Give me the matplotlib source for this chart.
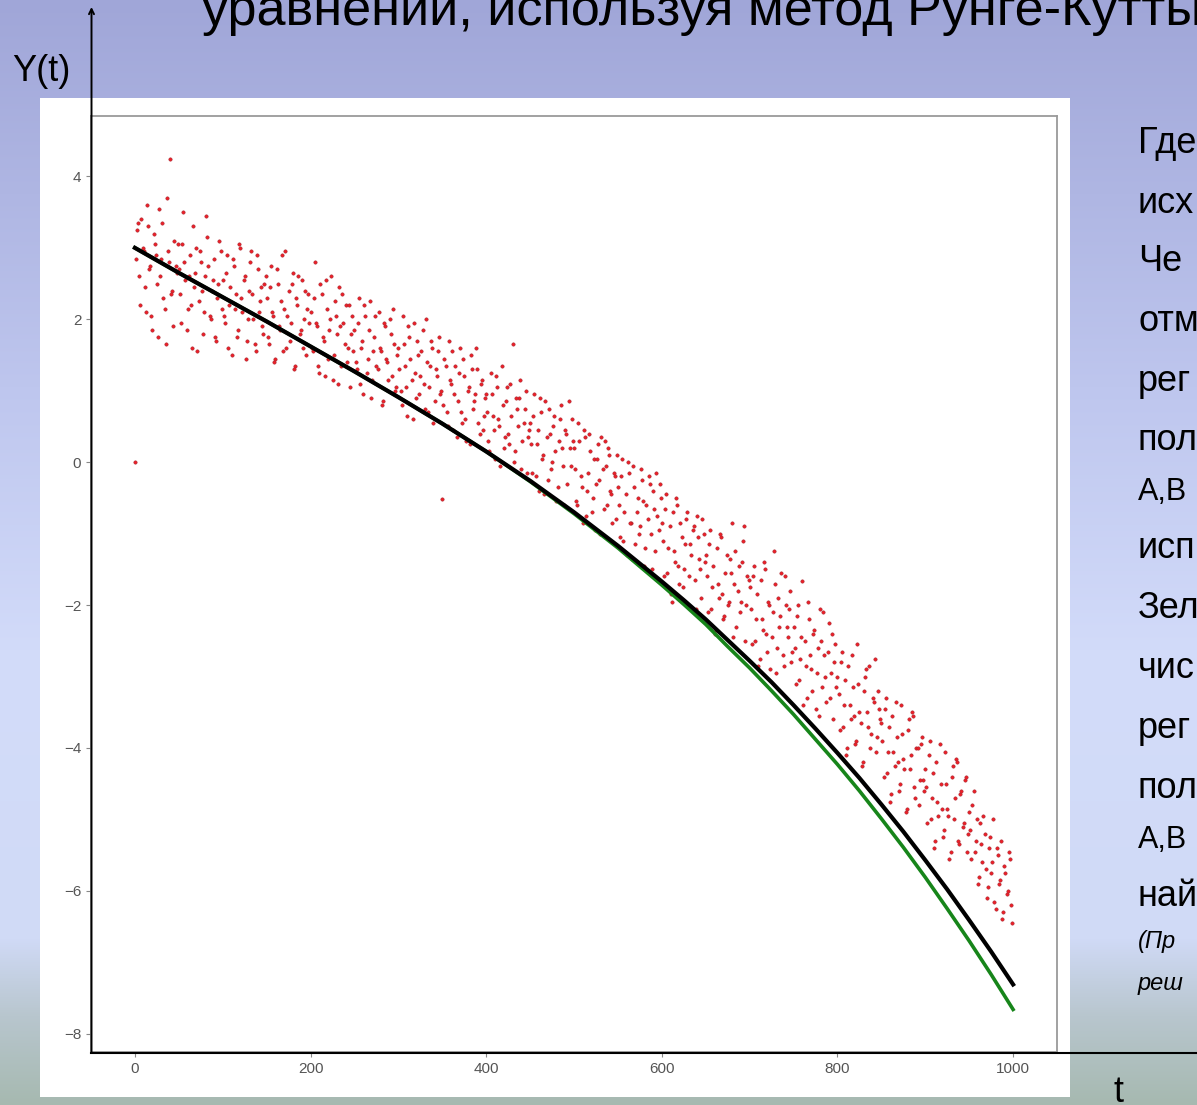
import numpy as np
import matplotlib
matplotlib.use("Agg")
import matplotlib.pyplot as plt
from matplotlib.patches import Rectangle, FancyArrowPatch
from matplotlib.lines import Line2D

plt.rcParams['font.family'] = ['Liberation Sans', 'DejaVu Sans']

# --- данные ---
t_line = [0, 50, 100, 150, 200, 250, 300, 350, 400, 450, 500, 550, 600,
          625, 650, 675, 700, 725, 750, 775, 800, 825, 850, 875, 900, 925, 950, 975, 1000]
# регрессия (черная)
y_regr = [3.00, 2.65, 2.31, 1.97, 1.62, 1.27, 0.91, 0.54, 0.15, -0.26, -0.70, -1.17, -1.67,
          -1.93, -2.20, -2.49, -2.78, -3.08, -3.40, -3.73, -4.07, -4.42, -4.79, -5.17,
          -5.57, -5.98, -6.41, -6.85, -7.31]
# численное решение (зеленая)
y_rk = [3.00, 2.65, 2.31, 1.97, 1.62, 1.27, 0.91, 0.54, 0.15, -0.27, -0.72, -1.20, -1.72,
        -1.99, -2.27, -2.58, -2.88, -3.20, -3.53, -3.88, -4.23, -4.60, -4.99, -5.39,
        -5.81, -6.25, -6.70, -7.17, -7.66]

# исходные точки: два набора со сдвигом по t
t_obs_a = np.arange(0, 1000, 2.5)
y_obs_a = [
    0.00, 3.25, 2.60, 3.40, 2.95, 2.10, 3.30, 2.75, 1.85, 3.05, 2.50, 3.55, 2.85, 2.30, 1.65, 2.95, 4.25, 2.40, 3.10, 2.65,
    2.70, 1.95, 3.50, 2.55, 2.15, 2.90, 1.60, 2.45, 3.00, 2.25, 2.80, 1.80, 2.60, 3.15, 2.05, 2.40, 2.85, 1.70, 2.50, 2.95,
    2.55, 1.95, 2.90, 2.20, 1.50, 2.75, 2.35, 1.85, 3.00, 2.10, 2.60, 1.70, 2.40, 2.95, 2.00, 1.55, 2.70, 2.25, 1.90, 2.50,
    2.30, 1.65, 2.75, 2.05, 1.45, 2.50, 1.85, 2.90, 2.15, 1.60, 2.40, 1.95, 2.65, 1.35, 2.20, 1.80, 2.55, 2.00, 1.50, 2.35,
    2.10, 1.55, 2.80, 1.90, 1.25, 2.35, 1.70, 2.55, 1.45, 2.00, 1.15, 2.25, 1.80, 2.45, 1.35, 1.95, 2.20, 1.60, 1.05, 2.05,
    1.85, 1.30, 2.30, 1.60, 0.95, 2.05, 1.45, 2.25, 1.15, 1.75, 1.35, 2.10, 1.55, 0.85, 1.90, 1.40, 2.00, 1.20, 1.65, 1.05,
    1.60, 1.00, 2.05, 1.35, 0.65, 1.75, 1.15, 1.95, 0.90, 1.50, 1.20, 1.85, 0.75, 1.40, 1.05, 1.70, 0.55, 1.30, 1.55, 0.95,
    -0.52, 1.45, 0.70, 1.70, 1.10, 0.45, 1.35, 0.85, 1.60, 0.55, 1.20, 0.30, 1.05, 1.50, 0.75, 0.95, 1.30, 0.40, 1.15, 0.65,
    0.95, 0.30, 1.25, 0.65, 0.05, 1.05, 0.50, 1.35, 0.20, 0.85, 0.40, 1.10, 1.66, 0.15, 0.75, 0.90, -0.10, 0.55, 1.00, 0.35,
    0.55, -0.15, 0.95, 0.25, -0.40, 0.70, 0.10, 0.85, -0.25, 0.40, 0.00, 0.65, -0.55, 0.30, 0.80, -0.05, 0.45, -0.30, 0.20, 0.60,
    0.20, -0.55, 0.55, -0.20, -0.85, 0.35, -0.40, 0.40, -0.70, 0.05, -0.30, 0.25, -1.00, -0.10, 0.30, -0.60, 0.10, -0.45, -0.15, -0.80,
    -0.35, -1.05, 0.05, -0.70, -1.30, -0.15, -0.85, -0.05, -1.15, -0.50, -0.90, -0.25, -1.45, -0.60, -0.20, -1.00, -0.40, -1.25, -0.75, -0.30,
    -0.85, -1.60, -0.45, -1.20, -1.85, -0.70, -1.40, -0.60, -1.70, -1.05, -1.50, -0.80, -2.00, -1.15, -0.95, -1.65, -0.75, -1.35, -1.90, -1.00,
    -1.30, -2.10, -0.95, -1.75, -2.40, -1.20, -1.90, -1.05, -2.20, -1.55, -2.00, -1.35, -0.85, -1.70, -2.30, -1.45, -1.95, -1.10, -2.50, -1.60,
    -1.75, -2.55, -1.45, -2.20, -2.85, -1.65, -2.35, -1.50, -2.65, -2.00, -2.45, -1.24, -2.95, -1.90, -2.15, -2.70, -1.60, -2.30, -2.05, -2.80,
    -2.30, -3.10, -2.00, -2.75, -1.66, -2.50, -3.30, -2.20, -2.90, -2.40, -3.45, -2.60, -2.05, -3.15, -2.70, -3.35, -2.25, -2.95, -3.60, -2.55,
    -3.00, -3.75, -2.65, -3.40, -4.10, -2.85, -3.60, -3.15, -3.95, -2.55, -3.50, -4.25, -3.20, -2.90, -3.70, -4.00, -3.30, -2.75, -3.85, -3.45,
    -3.65, -4.40, -3.30, -4.05, -4.75, -3.55, -4.25, -3.85, -4.60, -3.40, -4.15, -4.90, -3.75, -4.30, -3.50, -4.55, -4.00, -4.80, -3.95, -4.45,
    -4.30, -5.05, -3.90, -4.70, -5.40, -4.20, -4.95, -4.50, -5.25, -4.05, -4.85, -5.55, -4.40, -5.00, -4.15, -5.30, -4.65, -5.10, -4.45, -5.45,
    -4.90, -5.55, -4.60, -5.30, -5.90, -5.05, -5.60, -5.20, -6.10, -5.40, -5.75, -5.00, -6.25, -5.50, -5.85, -6.40, -5.65, -6.05, -5.45, -6.20,
]
t_obs_b = np.arange(1.25, 1000, 2.5)
y_obs_b = [
    2.85, 3.35, 2.20, 3.00, 2.45, 3.60, 2.70, 2.05, 3.20, 2.90, 1.75, 2.60, 3.35, 2.15, 3.70, 2.80, 2.35, 1.90, 2.75, 3.05,
    2.35, 3.05, 2.80, 1.85, 2.60, 2.20, 3.30, 2.65, 1.55, 2.95, 2.40, 2.10, 3.45, 2.75, 2.00, 2.55, 1.75, 2.30, 3.10, 2.15,
    2.05, 2.65, 1.60, 2.45, 2.85, 2.15, 1.75, 3.05, 2.30, 2.55, 1.45, 2.00, 2.80, 2.35, 1.65, 2.90, 2.10, 2.45, 1.80, 2.60,
    1.75, 2.45, 2.10, 1.40, 2.70, 1.90, 2.25, 1.55, 2.95, 2.05, 1.70, 2.50, 1.30, 2.30, 2.60, 1.85, 1.60, 2.40, 2.15, 1.95,
    1.60, 2.30, 1.95, 1.35, 2.50, 1.75, 1.20, 2.15, 1.85, 2.60, 1.50, 2.05, 1.10, 1.90, 2.35, 1.65, 1.40, 2.20, 1.80, 1.55,
    1.40, 1.95, 1.10, 1.70, 2.20, 1.25, 1.85, 0.90, 1.55, 2.05, 1.30, 1.60, 0.80, 1.95, 1.45, 1.15, 1.80, 2.15, 1.00, 1.50,
    1.30, 0.80, 1.65, 1.05, 1.90, 1.45, 0.60, 1.25, 1.70, 0.95, 1.55, 1.10, 2.00, 0.70, 1.35, 1.60, 0.85, 1.20, 1.75, 1.00,
    0.80, 1.35, 0.50, 1.15, 1.55, 0.95, 0.35, 1.25, 0.70, 1.45, 0.60, 1.00, 0.25, 1.30, 0.85, 1.60, 0.55, 1.10, 0.45, 0.90,
    0.70, 0.15, 0.95, 0.45, 1.20, 0.60, -0.05, 0.80, 0.35, 1.05, 0.25, 0.65, 0.00, 0.90, 0.50, 1.15, 0.30, 0.75, -0.15, 0.45,
    0.25, 0.65, -0.20, 0.45, 0.90, 0.05, -0.45, 0.35, 0.75, -0.10, 0.50, 0.15, -0.35, 0.60, 0.20, -0.60, 0.40, 0.85, -0.05, 0.30,
    -0.10, -0.60, 0.30, -0.35, 0.45, -0.75, -0.15, 0.15, -0.50, -0.95, 0.05, -0.25, 0.35, -0.65, -0.05, 0.20, -0.40, -0.85, -0.20, 0.10,
    -0.60, -0.20, -1.10, -0.45, 0.00, -0.85, -1.35, -0.35, -0.70, -1.00, -0.10, -0.55, -1.20, -0.80, -0.30, -1.50, -0.65, -0.15, -0.95, -0.50,
    -1.10, -0.65, -1.55, -0.90, -1.95, -1.25, -0.50, -1.45, -0.85, -1.75, -1.15, -0.70, -1.60, -1.30, -0.90, -2.05, -1.05, -1.50, -0.80, -1.40,
    -1.60, -1.15, -2.05, -1.45, -2.35, -1.70, -1.00, -1.85, -2.15, -1.30, -1.95, -1.55, -2.45, -1.25, -1.80, -2.10, -1.40, -0.90, -2.00, -1.65,
    -2.05, -1.60, -2.50, -1.85, -2.75, -2.20, -1.40, -2.40, -1.95, -2.90, -2.10, -1.70, -2.60, -2.30, -1.55, -2.85, -2.00, -2.45, -1.80, -2.65,
    -2.60, -2.15, -3.05, -2.45, -3.40, -2.85, -1.95, -2.70, -3.20, -2.35, -2.95, -3.55, -2.50, -2.10, -3.00, -2.65, -3.30, -2.40, -2.80, -3.15,
    -3.25, -2.80, -3.70, -3.05, -4.00, -3.40, -2.70, -3.55, -3.90, -3.10, -3.65, -4.20, -3.00, -3.50, -2.85, -3.80, -3.35, -4.05, -3.20, -3.60,
    -3.90, -3.45, -4.35, -3.70, -4.65, -4.05, -3.35, -4.20, -4.50, -3.80, -4.30, -4.85, -3.60, -4.10, -3.55, -4.70, -4.00, -4.45, -3.85, -4.60,
    -4.55, -4.10, -5.00, -4.35, -5.30, -4.75, -3.95, -4.85, -5.15, -4.50, -4.95, -5.45, -4.25, -4.70, -4.20, -5.35, -4.60, -5.05, -4.40, -5.20,
    -5.15, -4.80, -5.45, -5.00, -5.80, -5.35, -4.95, -5.70, -5.95, -5.25, -5.60, -6.15, -5.40, -5.90, -5.30, -6.30, -5.75, -6.00, -5.55, -6.45,
]

title_text = "уравнений, используя метод Рунге-Кутты"
side_text = ["Где", "исх", "Че", "отм", "рег", "пол", "A,B", "исп",
             "Зел", "чис", "рег", "пол", "A,B", "най", "(Пр", "реш"]

W, H = 1197, 1105
fig = plt.figure(figsize=(W / 100, H / 100), dpi=100)


def fx(px):
    return px / W


def fy(py):
    return 1 - py / H


# фон слайда
bg = fig.add_axes([0, 0, 1, 1], zorder=-3)
bg.axis('off')
stops = [0.0, 0.35, 0.6, 0.85, 0.92, 1.0]
cols = np.array([(160, 166, 216), (190, 198, 238), (211, 220, 250),
                 (208, 218, 246), (184, 198, 206), (166, 185, 176)]) / 255
yy = np.linspace(0, 1, H)
grad = np.stack([np.interp(yy, stops, cols[:, k]) for k in range(3)], axis=-1)
bg.imshow(grad[:, None, :], aspect='auto', extent=[0, 1, 0, 1])

# белая подложка картинки
fig.add_artist(Rectangle((fx(40), fy(1097)), (1070 - 40) / W, (1097 - 98) / H,
                         transform=fig.transFigure, facecolor='white',
                         edgecolor='none', zorder=-2))

ax = fig.add_axes([fx(91), fy(1052), (1057 - 91) / W, (1052 - 116) / H])
for tt, yv in ((t_obs_a, y_obs_a), (t_obs_b, y_obs_b)):
    ax.plot(tt, yv, 'o', color='#ee2028', ms=2.4, mew=0.4, mec='#a8202a')
ax.plot(t_line, y_rk, color='#17851a', lw=2.6)
ax.plot(t_line, y_regr, color='black', lw=3.0)

for s in ax.spines.values():
    s.set_color('#9a9a9a')
    s.set_linewidth(1.3)
ax.tick_params(length=3.5, width=0.8, color='#888888', labelcolor='#555555',
               labelsize=11)

# оси слайда
fig.add_artist(FancyArrowPatch((fx(91.5), fy(1052)), (fx(91.5), fy(7)),
                               transform=fig.transFigure, arrowstyle='->',
                               mutation_scale=9, lw=1.4, color='black',
                               shrinkA=0, shrinkB=0, zorder=5))
fig.add_artist(Line2D([fx(91), fx(1197)], [fy(1052.5), fy(1052.5)],
                      transform=fig.transFigure, color='black', lw=1.5, zorder=5))

fig.text(fx(202), fy(25), title_text, fontsize=37.5, va='baseline', ha='left')
fig.text(fx(12), fy(81), "Y(t)", fontsize=26, va='baseline', ha='left')
fig.text(fx(1114), fy(1102), "t", fontsize=26, va='baseline', ha='left')

side_y = [153, 213, 271, 331, 391, 450, 500, 558, 618, 678, 738, 798, 848, 906, 948, 990]
side_size = [26] * 6 + [22] + [26] * 5 + [22, 26, 17, 17]
for k, s in enumerate(side_text):
    style = 'italic' if s in ("(Пр", "реш") else 'normal'
    fig.text(fx(1138), fy(side_y[k]), s, fontsize=side_size[k],
             style=style, va='baseline', ha='left')

fig.savefig('out.png', dpi=100)
